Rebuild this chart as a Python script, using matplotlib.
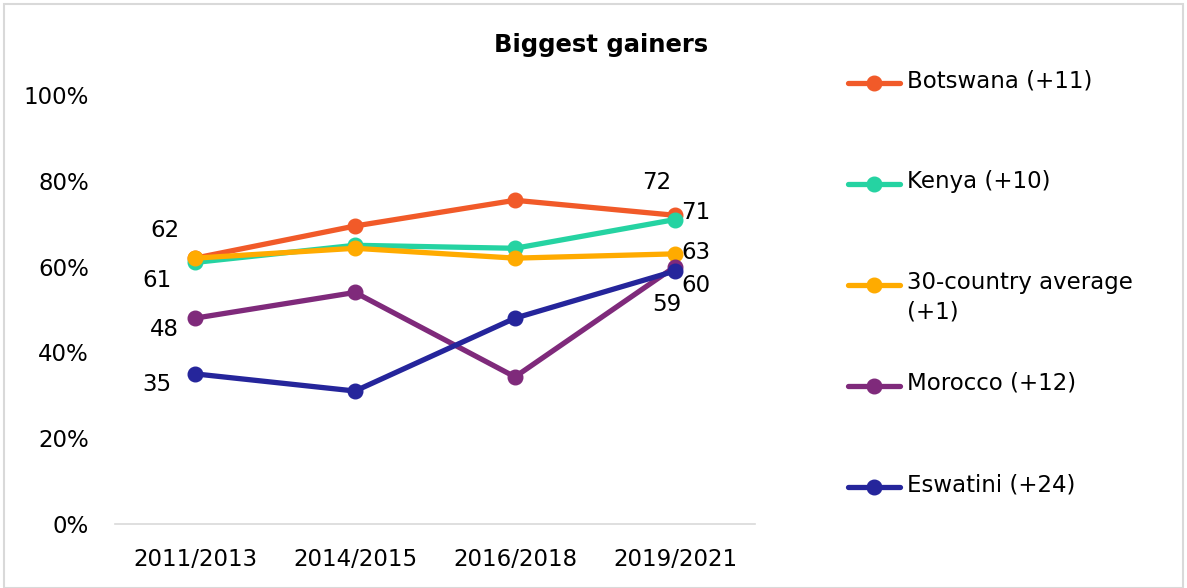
import matplotlib
matplotlib.use('Agg')
from matplotlib import pyplot as plt
from matplotlib.patches import Rectangle
from matplotlib.lines import Line2D
import numpy as np

plt.rcParams['font.family'] = ['DejaVu Sans']

# Data
periods = ['2011/2013', '2014/2015', '2016/2018', '2019/2021']
botswana = [62, 69.5, 75.5, 72]
kenya = [61, 65, 64.3, 71]
average = [62, 64.3, 62, 63]
morocco = [48, 54, 34.3, 60]
eswatini = [35, 31, 48, 59]

labels = ['Botswana (+11)', 'Kenya (+10)', '30-country average\n(+1)', 'Morocco (+12)', 'Eswatini (+24)']
colors = ['#F15A29', '#25D3A2', '#FFAB00', '#7F2A7B', '#25259B']
series = [botswana, kenya, average, morocco, eswatini]

# label offsets (pixels) for first / last points, None = no label
first_off = [(-30, 28), (-38, -18), None, (-31, -11), (-38, -11)]
last_off = [(-18, 33), (21, 7), (21, 1), (21, -19), (-8, -33)]

FS = 16.5

fig = plt.figure(figsize=(11.87, 5.88), dpi=100)
ax = fig.add_axes([0.097, 0.109, 0.539, 0.729])

x = np.arange(len(periods))
for vals, lab, col, fo, lo in zip(series, labels, colors, first_off, last_off):
    ax.plot(x, vals, color=col, lw=3.8, marker='o', markersize=10.5,
            solid_capstyle='round', label=lab)
    if fo is not None:
        ax.annotate('{:.0f}'.format(vals[0]), (x[0], vals[0]), xytext=fo,
                    textcoords='offset pixels', ha='center', va='center', fontsize=FS)
    if lo is not None:
        ax.annotate('{:.0f}'.format(vals[-1]), (x[-1], vals[-1]), xytext=lo,
                    textcoords='offset pixels', ha='center', va='center', fontsize=FS)

ax.set_xlim(-0.5, 3.5)
ax.set_ylim(0, 100)
ax.set_xticks(x)
ax.set_xticklabels(periods)
ax.set_yticks(np.arange(0, 101, 20))
ax.set_yticklabels(['{}%'.format(v) for v in range(0, 101, 20)])
ax.tick_params(axis='both', length=0, labelsize=FS)
ax.tick_params(axis='y', pad=19)
ax.tick_params(axis='x', pad=17)
for s in ['top', 'right', 'left']:
    ax.spines[s].set_visible(False)
ax.spines['bottom'].set_color('#D9D9D9')
ax.spines['bottom'].set_linewidth(1.2)

fig.text(0.506, 0.923, 'Biggest gainers', ha='center', va='center',
         fontsize=17.5, fontweight='bold')

# legend, one entry per series, evenly spaced like the original
leg_top = 1 - 83 / 588
leg_step = 101 / 588
x0, x1 = 848 / 1187, 900 / 1187
for i, (lab, col) in enumerate(zip(labels, colors)):
    y = leg_top - i * leg_step
    fig.add_artist(Line2D([x0, (x0 + x1) / 2, x1], [y, y, y], transform=fig.transFigure,
                          color=col, lw=3.8, marker='o', markersize=10.5, markevery=[1],
                          solid_capstyle='round'))
    fig.text(907 / 1187, y + 14 / 588, lab, ha='left', va='top', fontsize=FS,
             linespacing=1.35)

fig.patches.append(Rectangle((0.003, 0.0), 0.994, 0.994, transform=fig.transFigure,
                             fill=False, edgecolor='#D9D9D9', lw=1.5))

fig.savefig('out.png', dpi=100)
